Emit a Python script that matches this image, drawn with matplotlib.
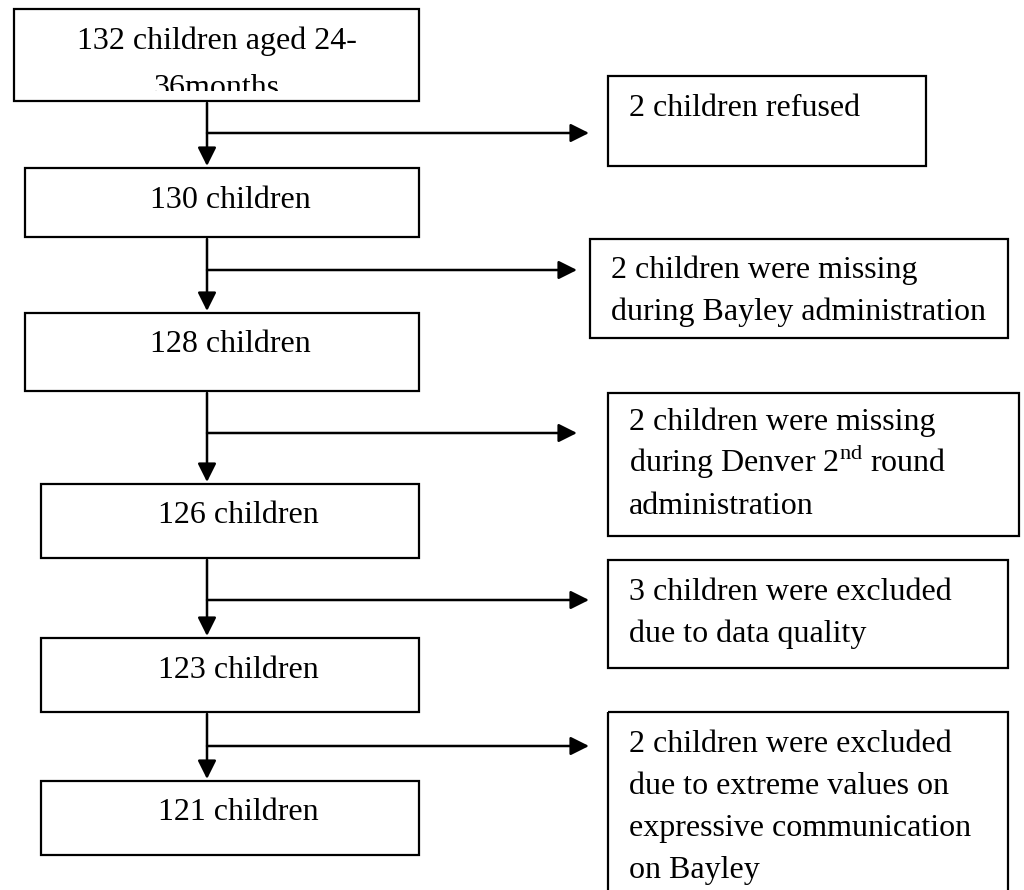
import matplotlib.pyplot as plt
from matplotlib.patches import Rectangle

plt.rcParams['font.family'] = ['Liberation Serif', 'DejaVu Serif']
plt.rcParams['mathtext.fontset'] = 'custom'
plt.rcParams['mathtext.rm'] = 'Liberation Serif'

# flow counts and labels
main_labels = [
    ["132 children aged 24-", "36months"],
    ["130 children"],
    ["128 children"],
    ["126 children"],
    ["123 children"],
    ["121 children"],
]
excluded_labels = [
    ["2 children refused"],
    ["2 children were missing", "during Bayley administration"],
    ["2 children were missing", r"during Denver 2$^{\mathrm{nd}}$ round", "administration"],
    ["3 children were excluded", "due to data quality"],
    ["2 children were excluded", "due to extreme values on",
     "expressive communication", "on Bayley"],
]

# layout in pixel coords (x0, y0, x1, y1), first text baseline
main_boxes = [(14, 9, 419, 101), (25, 168, 419, 237), (25, 313, 419, 391),
              (41, 484, 419, 558), (41, 638, 419, 712), (41, 781, 419, 855)]
main_base = [49, 208, 352, 523, 678, 820]
side_boxes = [(608, 76, 926, 166), (590, 239, 1008, 338), (608, 393, 1019, 536),
              (608, 560, 1008, 668), (608, 712, 1008, 900)]
side_text_x = [629, 611, 629, 629, 629]
side_base = [116, 278, 430, 600, 752]
branch_y = [133, 270, 433, 600, 746]
arrow_tip_x = [589, 577, 577, 589, 589]
stem_x = 207
line_gap = 42
fs = 23

fig = plt.figure(figsize=(10.24, 8.90), dpi=100)
ax = fig.add_axes([0, 0, 1, 1])
ax.set_xlim(0, 1024)
ax.set_ylim(890, 0)
ax.axis('off')

for i, (x0, y0, x1, y1) in enumerate(main_boxes):
    ax.add_patch(Rectangle((x0, y0), x1 - x0, y1 - y0, fill=False,
                           edgecolor='black', lw=1.6))
    cx = (x0 + x1) / 2 + (0 if i == 0 else 8)
    for j, line in enumerate(main_labels[i]):
        gap = 47 if i == 0 else line_gap
        t = ax.text(cx, main_base[i] + j * gap, line, ha='center',
                    va='baseline', fontsize=fs)
        if i == 0:
            # the first box cuts off its second line, as in the source
            clip = Rectangle((x0, y0), x1 - x0, 82, transform=ax.transData)
            t.set_clip_path(clip)
            t.set_clip_on(True)

for i, (x0, y0, x1, y1) in enumerate(side_boxes):
    ax.add_patch(Rectangle((x0, y0), x1 - x0, y1 - y0, fill=False,
                           edgecolor='black', lw=1.6, clip_on=False))
    for j, line in enumerate(excluded_labels[i]):
        ax.text(side_text_x[i], side_base[i] + j * line_gap, line,
                ha='left', va='baseline', fontsize=fs)

# vertical arrows between main boxes
for i in range(len(main_boxes) - 1):
    top = main_boxes[i][3] + 2
    bottom = main_boxes[i + 1][1] - 2
    ax.annotate("", xy=(stem_x, bottom), xytext=(stem_x, top),
                arrowprops=dict(arrowstyle='-|>', color='black', lw=1.8,
                                mutation_scale=28, shrinkA=0, shrinkB=0))

# branches to exclusion boxes
for i in range(len(branch_y)):
    ax.annotate("", xy=(arrow_tip_x[i], branch_y[i]), xytext=(stem_x, branch_y[i]),
                arrowprops=dict(arrowstyle='-|>', color='black', lw=1.8,
                                mutation_scale=28, shrinkA=0, shrinkB=0))

fig.savefig("out.png", dpi=100)
